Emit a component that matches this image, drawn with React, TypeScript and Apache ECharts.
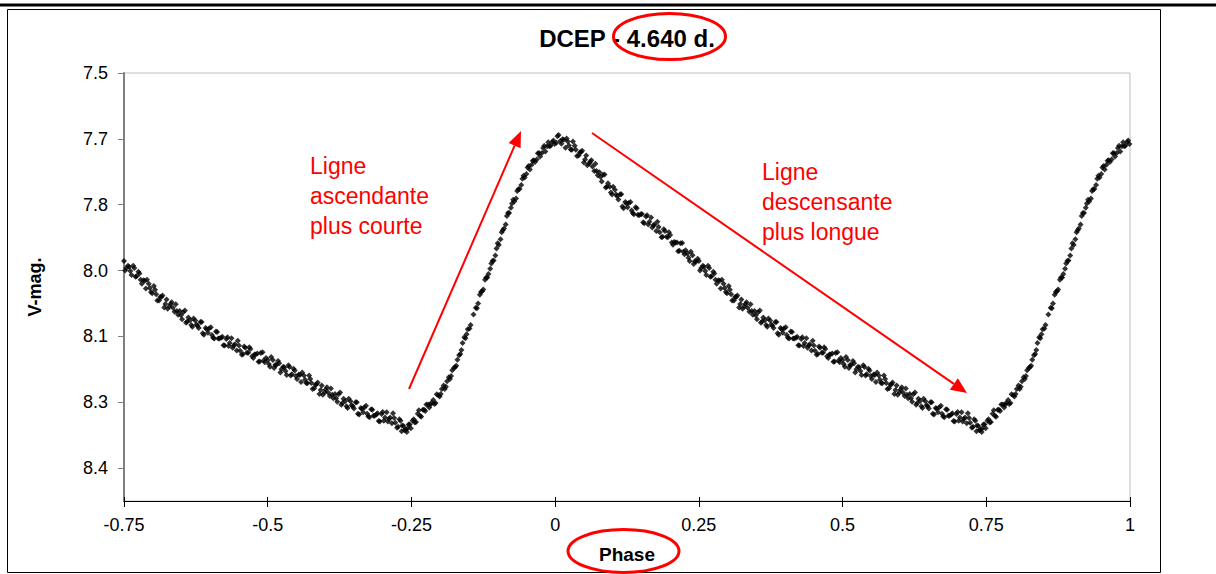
import { useEffect, useRef } from 'react';
import * as echarts from 'echarts';

const observationsA: [number, number][] = [
  [0.002, 7.659], [0.006, 7.641], [0.011, 7.661], [0.015, 7.652], [0.020, 7.649], [0.024, 7.665],
  [0.029, 7.675], [0.034, 7.666], [0.038, 7.689], [0.043, 7.681], [0.047, 7.677], [0.052, 7.697],
  [0.056, 7.710], [0.061, 7.702], [0.065, 7.713], [0.070, 7.707], [0.074, 7.733], [0.079, 7.737],
  [0.083, 7.732], [0.088, 7.761], [0.092, 7.751], [0.097, 7.772], [0.101, 7.759], [0.106, 7.777],
  [0.110, 7.788], [0.115, 7.776], [0.119, 7.808], [0.124, 7.797], [0.128, 7.796], [0.133, 7.813],
  [0.137, 7.822], [0.142, 7.808], [0.146, 7.824], [0.151, 7.821], [0.155, 7.842], [0.160, 7.824],
  [0.164, 7.839], [0.169, 7.852], [0.173, 7.845], [0.178, 7.839], [0.182, 7.863], [0.187, 7.873],
  [0.191, 7.860], [0.196, 7.874], [0.200, 7.869], [0.205, 7.891], [0.209, 7.886], [0.214, 7.906],
  [0.218, 7.888], [0.223, 7.907], [0.227, 7.904], [0.232, 7.921], [0.236, 7.907], [0.241, 7.935],
  [0.245, 7.930], [0.250, 7.928], [0.254, 7.944], [0.259, 7.942], [0.263, 7.960], [0.268, 7.944],
  [0.272, 7.963], [0.277, 7.957], [0.281, 7.980], [0.286, 7.973], [0.290, 7.971], [0.295, 7.990],
  [0.299, 8.002], [0.304, 7.994], [0.308, 8.018], [0.313, 8.010], [0.317, 8.007], [0.322, 8.026],
  [0.326, 8.037], [0.331, 8.026], [0.335, 8.035], [0.340, 8.027], [0.344, 8.051], [0.349, 8.052],
  [0.353, 8.045], [0.358, 8.069], [0.362, 8.057], [0.367, 8.074], [0.371, 8.059], [0.376, 8.073],
  [0.380, 8.081], [0.385, 8.067], [0.389, 8.096], [0.394, 8.084], [0.398, 8.082], [0.403, 8.097],
  [0.407, 8.105], [0.412, 8.090], [0.416, 8.105], [0.421, 8.101], [0.425, 8.121], [0.430, 8.102],
  [0.434, 8.115], [0.439, 8.126], [0.443, 8.118], [0.448, 8.110], [0.452, 8.133], [0.457, 8.140],
  [0.461, 8.126], [0.466, 8.137], [0.470, 8.129], [0.475, 8.149], [0.479, 8.141], [0.484, 8.158],
  [0.488, 8.138], [0.493, 8.155], [0.497, 8.149], [0.502, 8.163], [0.506, 8.147], [0.511, 8.172],
  [0.515, 8.165], [0.520, 8.161], [0.524, 8.175], [0.529, 8.171], [0.533, 8.188], [0.538, 8.170],
  [0.542, 8.186], [0.547, 8.178], [0.551, 8.197], [0.556, 8.188], [0.560, 8.182], [0.565, 8.199],
  [0.569, 8.207], [0.574, 8.197], [0.578, 8.220], [0.583, 8.210], [0.587, 8.205], [0.592, 8.222],
  [0.596, 8.233], [0.601, 8.221], [0.605, 8.228], [0.610, 8.219], [0.614, 8.241], [0.619, 8.241],
  [0.623, 8.232], [0.628, 8.256], [0.632, 8.242], [0.637, 8.259], [0.641, 8.242], [0.646, 8.257],
  [0.650, 8.264], [0.655, 8.250], [0.659, 8.278], [0.664, 8.265], [0.668, 8.262], [0.673, 8.276],
  [0.677, 8.284], [0.682, 8.267], [0.686, 8.281], [0.691, 8.275], [0.695, 8.294], [0.700, 8.272],
  [0.704, 8.285], [0.709, 8.294], [0.713, 8.285], [0.718, 8.275], [0.722, 8.297], [0.727, 8.306],
  [0.731, 8.292], [0.733, 8.316], [0.736, 8.304], [0.740, 8.312], [0.742, 8.318], [0.745, 8.301],
  [0.749, 8.309], [0.754, 8.289], [0.758, 8.295], [0.763, 8.268], [0.767, 8.283], [0.772, 8.267],
  [0.776, 8.255], [0.781, 8.262], [0.785, 8.251], [0.790, 8.254], [0.794, 8.232], [0.799, 8.237],
  [0.803, 8.220], [0.808, 8.220], [0.812, 8.202], [0.817, 8.197], [0.821, 8.177], [0.826, 8.170],
  [0.830, 8.153], [0.835, 8.140], [0.839, 8.115], [0.844, 8.104], [0.848, 8.084], [0.853, 8.074],
  [0.862, 8.035], [0.866, 8.025], [0.871, 7.999], [0.875, 7.993], [0.880, 7.966], [0.884, 7.958],
  [0.889, 7.934], [0.893, 7.927], [0.898, 7.900], [0.902, 7.892], [0.907, 7.863], [0.911, 7.854],
  [0.916, 7.826], [0.920, 7.819], [0.925, 7.797], [0.929, 7.793], [0.934, 7.769], [0.938, 7.764],
  [0.943, 7.741], [0.947, 7.738], [0.952, 7.715], [0.956, 7.720], [0.961, 7.700], [0.965, 7.703],
  [0.970, 7.683], [0.974, 7.690], [0.979, 7.671], [0.983, 7.679], [0.988, 7.658], [0.992, 7.666],
  [0.997, 7.654],
];

const observationsB: [number, number][] = [
  [0.004, 7.644], [0.009, 7.655], [0.013, 7.651], [0.018, 7.670], [0.022, 7.656], [0.027, 7.674],
  [0.031, 7.656], [0.036, 7.675], [0.041, 7.688], [0.045, 7.680], [0.050, 7.704], [0.054, 7.688],
  [0.059, 7.707], [0.063, 7.699], [0.068, 7.723], [0.072, 7.723], [0.077, 7.726], [0.081, 7.747],
  [0.086, 7.731], [0.090, 7.759], [0.095, 7.759], [0.099, 7.777], [0.104, 7.766], [0.108, 7.781],
  [0.113, 7.776], [0.117, 7.804], [0.122, 7.794], [0.126, 7.806], [0.131, 7.794], [0.135, 7.819],
  [0.140, 7.806], [0.144, 7.823], [0.149, 7.822], [0.153, 7.840], [0.158, 7.827], [0.162, 7.845],
  [0.167, 7.829], [0.171, 7.847], [0.176, 7.860], [0.180, 7.851], [0.185, 7.874], [0.189, 7.856],
  [0.194, 7.873], [0.198, 7.863], [0.203, 7.886], [0.207, 7.885], [0.212, 7.886], [0.216, 7.905],
  [0.221, 7.887], [0.225, 7.913], [0.230, 7.911], [0.234, 7.928], [0.239, 7.915], [0.243, 7.929],
  [0.248, 7.923], [0.252, 7.950], [0.257, 7.939], [0.261, 7.951], [0.266, 7.939], [0.270, 7.964],
  [0.275, 7.953], [0.279, 7.971], [0.284, 7.972], [0.288, 7.991], [0.293, 7.980], [0.297, 7.999],
  [0.302, 7.985], [0.306, 8.004], [0.311, 8.018], [0.315, 8.010], [0.320, 8.034], [0.324, 8.016],
  [0.329, 8.032], [0.333, 8.022], [0.338, 8.044], [0.342, 8.042], [0.347, 8.042], [0.351, 8.061],
  [0.356, 8.041], [0.360, 8.066], [0.365, 8.063], [0.369, 8.078], [0.374, 8.064], [0.378, 8.076],
  [0.383, 8.067], [0.387, 8.093], [0.392, 8.081], [0.396, 8.092], [0.401, 8.079], [0.405, 8.103],
  [0.410, 8.089], [0.414, 8.105], [0.419, 8.103], [0.423, 8.120], [0.428, 8.106], [0.432, 8.122],
  [0.437, 8.104], [0.441, 8.121], [0.446, 8.132], [0.450, 8.121], [0.455, 8.142], [0.459, 8.123],
  [0.464, 8.137], [0.468, 8.125], [0.473, 8.145], [0.477, 8.141], [0.482, 8.139], [0.486, 8.157],
  [0.491, 8.136], [0.495, 8.159], [0.500, 8.154], [0.504, 8.169], [0.509, 8.154], [0.513, 8.165],
  [0.518, 8.156], [0.522, 8.182], [0.527, 8.169], [0.531, 8.179], [0.536, 8.166], [0.540, 8.189],
  [0.545, 8.174], [0.549, 8.190], [0.554, 8.187], [0.558, 8.204], [0.563, 8.189], [0.567, 8.206],
  [0.572, 8.189], [0.576, 8.206], [0.581, 8.218], [0.585, 8.209], [0.590, 8.231], [0.594, 8.212],
  [0.599, 8.227], [0.603, 8.216], [0.608, 8.236], [0.612, 8.233], [0.617, 8.231], [0.621, 8.249],
  [0.626, 8.228], [0.630, 8.252], [0.635, 8.247], [0.639, 8.263], [0.644, 8.248], [0.648, 8.259],
  [0.653, 8.250], [0.657, 8.276], [0.662, 8.263], [0.666, 8.273], [0.671, 8.258], [0.675, 8.282],
  [0.680, 8.266], [0.684, 8.281], [0.689, 8.278], [0.693, 8.293], [0.698, 8.277], [0.702, 8.292],
  [0.707, 8.273], [0.711, 8.288], [0.716, 8.298], [0.720, 8.286], [0.725, 8.308], [0.729, 8.289],
  [0.734, 8.303], [0.738, 8.314], [0.743, 8.310], [0.747, 8.301], [0.752, 8.292], [0.756, 8.296],
  [0.761, 8.276], [0.765, 8.281], [0.770, 8.267], [0.774, 8.270], [0.779, 8.255], [0.783, 8.256],
  [0.788, 8.245], [0.792, 8.252], [0.797, 8.234], [0.801, 8.231], [0.806, 8.212], [0.810, 8.215],
  [0.815, 8.193], [0.819, 8.190], [0.824, 8.172], [0.828, 8.167], [0.833, 8.143], [0.837, 8.131],
  [0.842, 8.102], [0.846, 8.095], [0.851, 8.082], [0.858, 8.050], [0.864, 8.036], [0.869, 8.005],
  [0.873, 7.997], [0.878, 7.971], [0.882, 7.966], [0.887, 7.946], [0.891, 7.928], [0.896, 7.916],
  [0.900, 7.888], [0.905, 7.879], [0.909, 7.858], [0.914, 7.845], [0.918, 7.819], [0.923, 7.807],
  [0.927, 7.789], [0.932, 7.786], [0.936, 7.765], [0.941, 7.755], [0.945, 7.734], [0.950, 7.730],
  [0.954, 7.712], [0.959, 7.709], [0.963, 7.699], [0.968, 7.697], [0.972, 7.682], [0.977, 7.682],
  [0.981, 7.666], [0.986, 7.667], [0.990, 7.667], [0.995, 7.657], [0.999, 7.662],
];

const xTickLabels = ['-0.75', '-0.5', '-0.25', '0', '0.25', '0.5', '0.75', '1'];
const yTickValues = [7.5, 7.65, 7.8, 7.95, 8.1, 8.25, 8.4];
const yTickLabels = ['7.5', '7.7', '7.8', '8.0', '8.1', '8.3', '8.4'];

const titleText = 'DCEP - 4.640 d.';
const ascendingNote = 'Ligne\nascendante\nplus courte';
const descendingNote = 'Ligne\ndescensante\nplus longue';

const FONT = '"Liberation Sans", Arial, sans-serif';
const RED = '#ff0000';

function arrow(x1: number, y1: number, x2: number, y2: number, headLen: number, headHalf: number) {
  const dx = x2 - x1;
  const dy = y2 - y1;
  const len = Math.hypot(dx, dy);
  const ux = dx / len;
  const uy = dy / len;
  const bx = x2 - ux * headLen;
  const by = y2 - uy * headLen;
  const nx = -uy;
  const ny = ux;
  return [
    {
      type: 'line',
      z: 100,
      shape: { x1, y1, x2: bx, y2: by },
      style: { stroke: RED, lineWidth: 2 },
    },
    {
      type: 'polygon',
      z: 100,
      shape: {
        points: [
          [x2, y2],
          [bx + nx * headHalf, by + ny * headHalf],
          [bx - nx * headHalf, by - ny * headHalf],
        ],
      },
      style: { fill: RED },
    },
  ];
}

export default function App() {
  const ref = useRef<HTMLDivElement>(null);

  useEffect(() => {
    if (!ref.current) return;
    const chart = echarts.init(ref.current, undefined, { renderer: 'svg' });

    // phase-folded display: each observation also shown one cycle earlier
    const points: [number, number][] = [];
    [...observationsA, ...observationsB].forEach(([p, m]) => {
      points.push([p, m]);
      if (p - 1 >= -0.75) points.push([p - 1, m]);
    });

    chart.setOption({
      animation: false,
      backgroundColor: '#ffffff',
      title: {
        text: titleText,
        left: 622,
        top: 21,
        textAlign: 'center',
        textStyle: { fontFamily: FONT, fontSize: 24, fontWeight: 'bold', color: '#000' },
      },
      grid: {
        left: 124,
        right: 86,
        top: 73,
        bottom: 73,
        show: true,
        borderColor: '#bfbfbf',
        borderWidth: 1,
        backgroundColor: 'transparent',
      },
      xAxis: [
        {
          type: 'value',
          min: -0.75,
          max: 1,
          interval: 0.25,
          name: 'Phase',
          nameLocation: 'middle',
          nameGap: 44,
          nameTextStyle: { fontFamily: FONT, fontSize: 19, fontWeight: 'bold', color: '#000' },
          axisLine: { show: true, onZero: false, lineStyle: { color: '#000', width: 1 } },
          axisTick: { show: true, inside: false, length: 6, lineStyle: { color: '#000' } },
          axisLabel: {
            fontFamily: FONT,
            fontSize: 18,
            color: '#000',
            margin: 15,
            formatter: (v: number) => xTickLabels[Math.round((v + 0.75) / 0.25)] ?? '',
          },
          splitLine: { show: false },
        },
        {
          type: 'value',
          position: 'bottom',
          min: -0.75,
          max: 1,
          interval: 0.25,
          axisLine: { show: false, onZero: false },
          axisTick: { show: true, inside: true, length: 4, lineStyle: { color: '#000' } },
          axisLabel: { show: false },
          splitLine: { show: false },
        },
      ],
      yAxis: {
        type: 'value',
        inverse: true,
        min: 7.5,
        max: 8.475,
        name: 'V-mag.',
        nameLocation: 'middle',
        nameGap: 80,
        nameTextStyle: { fontFamily: FONT, fontSize: 18, fontWeight: 'bold', color: '#000' },
        axisLine: { show: true, onZero: false, lineStyle: { color: '#808080', width: 2 } },
        axisTick: {
          show: true,
          inside: false,
          length: 6,
          customValues: yTickValues,
          lineStyle: { color: '#808080' },
        },
        axisLabel: {
          fontFamily: FONT,
          fontSize: 18,
          color: '#000',
          margin: 16,
          customValues: yTickValues,
          formatter: (v: number) => yTickLabels[Math.round((v - 7.5) / 0.15)] ?? '',
        },
        splitLine: { show: false },
      },
      series: [
        {
          type: 'scatter',
          xAxisIndex: 0,
          symbol: 'diamond',
          symbolSize: 6,
          itemStyle: { color: '#000' },
          data: points,
        },
      ],
      graphic: [
        { type: 'line', z: 50, shape: { x1: 0, y1: 5, x2: 1216, y2: 5 }, style: { stroke: '#000', lineWidth: 3 } },
        {
          type: 'rect',
          z: 50,
          shape: { x: 7.5, y: 9.5, width: 1153, height: 563 },
          style: { fill: 'none', stroke: '#000', lineWidth: 1 },
        },
        {
          type: 'ellipse',
          z: 100,
          shape: { cx: 669.5, cy: 36.5, rx: 56, ry: 23 },
          style: { fill: 'none', stroke: RED, lineWidth: 3 },
        },
        {
          type: 'ellipse',
          z: 100,
          shape: { cx: 623.5, cy: 551, rx: 55.5, ry: 21.5 },
          style: { fill: 'none', stroke: RED, lineWidth: 3 },
        },
        ...arrow(409, 389, 521, 131, 16, 6.5),
        ...arrow(592, 133, 967, 393, 16, 7),
        {
          type: 'text',
          z: 100,
          x: 310,
          y: 151,
          style: {
            text: ascendingNote,
            fontFamily: FONT,
            fontSize: 23,
            lineHeight: 30,
            fill: RED,
            align: 'left',
            verticalAlign: 'top',
          },
        },
        {
          type: 'text',
          z: 100,
          x: 762,
          y: 157,
          style: {
            text: descendingNote,
            fontFamily: FONT,
            fontSize: 23,
            lineHeight: 30,
            fill: RED,
            align: 'left',
            verticalAlign: 'top',
          },
        },
      ],
    });

    return () => chart.dispose();
  }, []);

  return (
    <div
      ref={ref}
      style={{ position: 'absolute', left: 0, top: 0, width: 1216, height: 574 }}
    />
  );
}
